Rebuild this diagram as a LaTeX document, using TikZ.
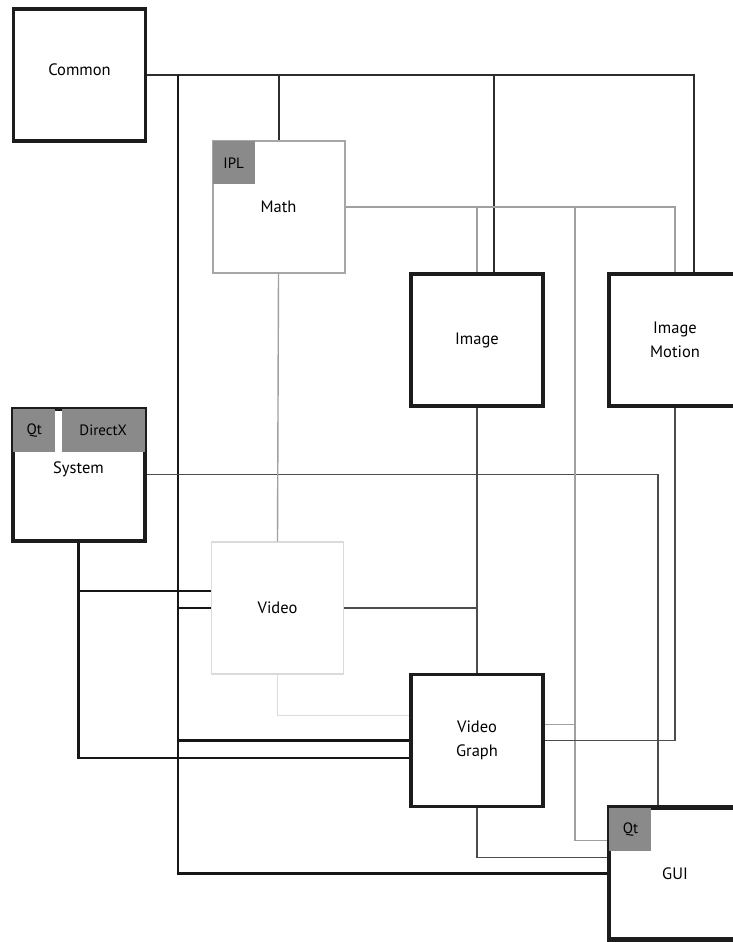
\documentclass[tikz,border=0pt]{standalone}
\usepackage{fontspec}
\setmainfont{PT Sans}
\usetikzlibrary{calc}
\definecolor{BoxInk}{HTML}{1C1C1C}
\definecolor{SoftEdge}{HTML}{A6A6A6}
\definecolor{FaintEdge}{HTML}{DADADA}
\definecolor{TagGray}{HTML}{8A8A8A}
\definecolor{LinkDark}{HTML}{2E2E2E}
\definecolor{LinkHeavy}{HTML}{161616}
\definecolor{LinkMid}{HTML}{4C4C4C}
\definecolor{LinkSoft}{HTML}{A0A0A0}
\definecolor{LinkFaint}{HTML}{DCDCDC}
\tikzset{
  module/.style={draw=BoxInk, line width=3.5pt, fill=white, align=center, minimum width=132pt, minimum height=132pt, inner sep=0pt, font=\fontsize{16.5}{24}\selectfont},
  softmodule/.style={module, draw=SoftEdge, line width=2pt},
  faintmodule/.style={module, draw=FaintEdge, line width=1.5pt},
  libtag/.style={fill=TagGray, anchor=north west, minimum width=42pt, minimum height=43pt, inner sep=0pt, font=\fontsize{15}{18}\selectfont},
  deplink/.style={draw=LinkDark, line width=2pt},
  heavylink/.style={draw=LinkHeavy, line width=2.4pt},
  midlink/.style={draw=LinkMid, line width=1.6pt},
  softlink/.style={draw=LinkSoft, line width=1.4pt},
  faintlink/.style={draw=LinkFaint, line width=1.2pt},
}
\begin{document}
\begin{tikzpicture}[x=1pt, y=-1pt]
  \useasboundingbox (0,0) rectangle (733,942);
  \clip (0,0) rectangle (733,942);

  % modules
  \node[module] (common) at (79.5,75) {Common\\[-14pt]\mbox{}};
  \node[softmodule] (math) at (278.5,207) {Math};
  \node[module] (image) at (477,340) {Image};
  \node[module] (motion) at (675,340) {Image\\Motion};
  \node[module, line width=4pt] (system) at (78.5,474.5) {System\\[-10pt]\mbox{}};
  \node[faintmodule] (video) at (277.5,608) {Video};
  \node[module] (vgraph) at (477,740.5) {Video\\Graph};
  \node[module, line width=4.5pt] (gui) at (675,873.5) {GUI};

  % third party parts
  \node[libtag] (ipl) at ($(math.north west)+(1,1)$) {IPL};
  \node[libtag] (sysqt) at ($(system.north west)+(2.5,2)$) {Qt};
  \node[libtag, minimum width=83pt] (directx) at ($(system.north west)+(51,2)$) {DirectX};
  \node[libtag] (guiqt) at ($(gui.north west)+(2.5,2.5)$) {Qt};

  \coordinate (bus) at (178,75);
  \coordinate (lane) at (575,207);
  \coordinate (vtap) at ($(video.west)+(0,-17)$);
  \coordinate (vgtap) at ($(vgraph.east)+(0,-16)$);

  % Common
  \draw[deplink] (common.east) -| ($(motion.north)+(19,0)$);
  \draw[deplink] (common.east -| math.north) -- (math.north);
  \draw[deplink] ($(common.east -| image.north)+(17,0)$) -- ($(image.north)+(17,0)$);
  \draw[heavylink] (bus) |- (gui.west);
  \draw[heavylink] (bus |- video.west) -- (video.west);
  \draw[heavylink] (bus |- vgraph.west) -- (vgraph.west);

  % System
  \draw[midlink] (system.east) -| ($(gui.north)+(-17,0)$);
  \draw[heavylink] (system.south) |- ($(vgraph.west)+(0,17.5)$);
  \draw[heavylink] (system.south |- vtap) -- (vtap);

  % Math
  \draw[softlink] (math.east) -| (motion.north);
  \draw[softlink] (math.east -| image.north) -- (image.north);
  \draw[softlink] (lane) |- ($(gui.west)+(0,-33)$);
  \draw[softlink] (math.south) -- (video.north);
  \draw[softlink] (vgtap) -- (vgtap -| lane);

  % Image, Video, Video Graph
  \draw[midlink] (image.south) -- (vgraph.north);
  \draw[midlink] (video.east) -- (video.east -| image.south);
  \draw[midlink] (motion.south) |- (vgraph.east);
  \draw[midlink] (vgraph.south) |- ($(gui.west)+(0,-16)$);
  \draw[faintlink] (video.south) |- ($(vgraph.west)+(0,-25)$);
\end{tikzpicture}
\end{document}
